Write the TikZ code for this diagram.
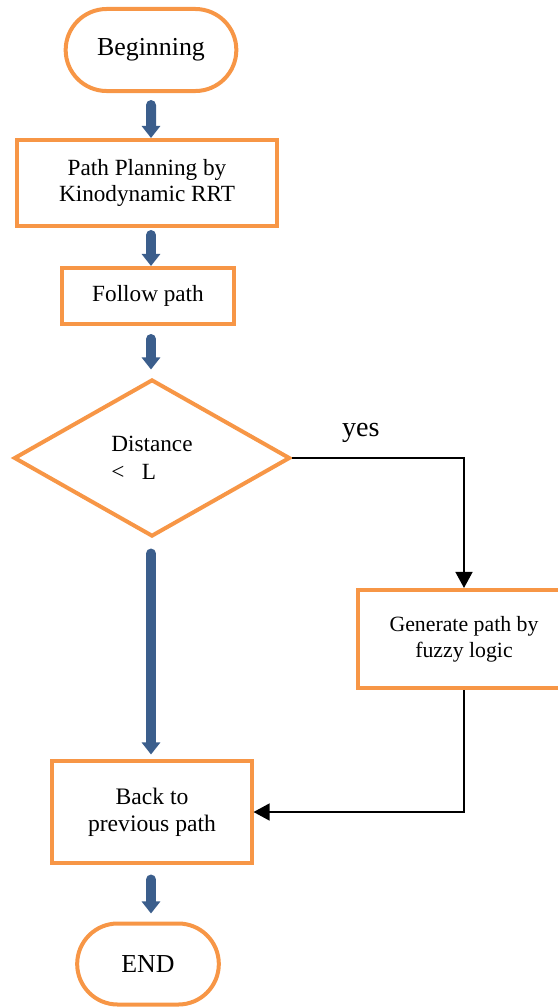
\documentclass[tikz,border=0pt]{standalone}
\usepackage{fontspec}
\setmainfont{Liberation Serif}
\usetikzlibrary{shapes.misc,shapes.geometric,arrows.meta}
\definecolor{boxorange}{HTML}{F79646}
\definecolor{flowblue}{HTML}{3B5E8C}

\begin{document}
\begin{tikzpicture}[x=0.025cm,y=-0.025cm,
  term/.style={rounded rectangle,draw=boxorange,line width=0.1cm,font=\fontsize{18.4}{21}\selectfont},
  box/.style={rectangle,draw=boxorange,line width=0.1cm,align=center,font=\fontsize{16.5}{18.5}\selectfont},
  test/.style={diamond,draw=boxorange,line width=0.1cm,align=left,inner sep=0pt,font=\fontsize{16.5}{20}\selectfont},
  flow/.style={-{Triangle[length=0.3cm,width=0.45cm]},flowblue,line width=0.25cm,line cap=round},
  link/.style={-{Triangle[length=0.4cm,width=0.42cm]},line width=0.05cm}]
\useasboundingbox (0,0) rectangle (558,1008);

\node (begin) at (151,50) [term,minimum width=4.5cm,minimum height=2.05cm] {Beginning};
\node (plan) at (147,183) [box,minimum width=6.475cm,minimum height=2.15cm] {Path Planning by\\Kinodynamic RRT};
\node (follow) at (148,296) [box,minimum width=4.275cm,minimum height=1.4cm] {Follow path};
\node (dist) at (152,458) [test,minimum width=6.9cm,minimum height=3.925cm] {Distance\\<\hspace{0.75em}L};
\node (gen) at (464,639) [box,minimum width=5.3cm,minimum height=2.45cm,font=\fontsize{15.5}{18.5}\selectfont] {Generate path by\\fuzzy logic};
\node (back) at (152,812) [box,minimum width=4.975cm,minimum height=2.525cm,font=\fontsize{16.8}{19}\selectfont] {Back to\\previous path};
\node (end) at (148,964) [term,minimum width=3.775cm,minimum height=2.025cm] {END};

\draw [flow,shorten <=0.3cm] (begin) -- (begin |- plan.north);
\draw [flow,shorten <=0.175cm] (begin |- plan.south) -- (begin |- follow.north);
\draw [flow,shorten <=0.325cm,shorten >=0.2cm] (begin |- follow.south) -- (begin |- dist.north);
\draw [flow,shorten <=0.375cm,shorten >=0.125cm] (dist.south -| begin) -- (begin |- back.north);
\draw [flow,shorten <=0.375cm,shorten >=0.2cm] (begin |- back.south) -- (begin |- end.north);

\draw [link] (dist.east) -| node [pos=0.2,above=0.25cm,font=\fontsize{20}{24}\selectfont] {yes} (gen.north);
\draw [link] (gen.south) |- (back.east);

\end{tikzpicture}
\end{document}
